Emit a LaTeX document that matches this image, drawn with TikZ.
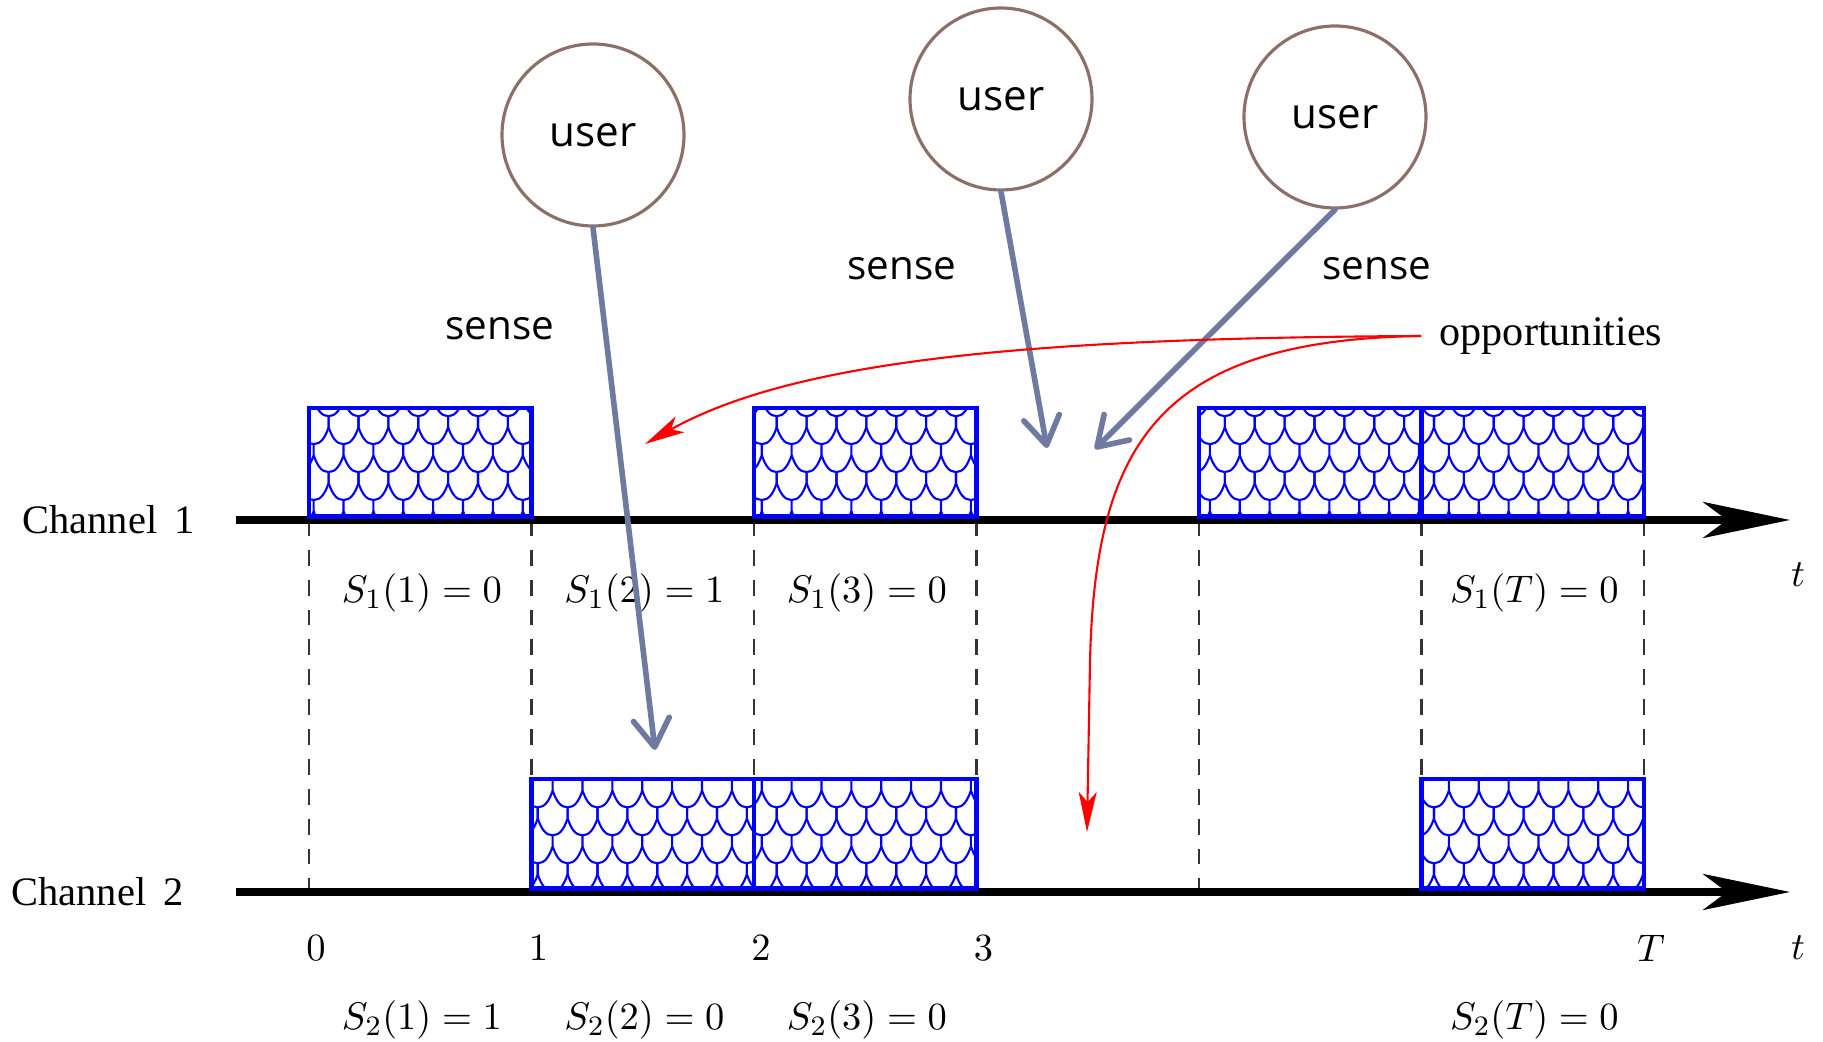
\documentclass[tikz,border=0pt]{standalone}
\usepackage[no-math]{fontspec}
\setmainfont{Liberation Serif}
\newfontfamily\uifont{Open Sans}
\usepackage{amsmath}
\usetikzlibrary{arrows.meta,patterns}

\definecolor{userbrown}{RGB}{140,112,104}
\definecolor{sensegray}{RGB}{110,122,160}

% fish scale hatching of the busy slots
\pgfdeclarepatternformonly{fishscale}{\pgfpoint{-1pt}{-1pt}}{\pgfpoint{9.5pt}{16.9pt}}{\pgfpoint{8.5pt}{15.9pt}}{
  \pgfsetlinewidth{0.6pt}
  \pgfpathmoveto{\pgfpoint{0pt}{15.9pt}}
  \pgfpathcurveto{\pgfpoint{1.0pt}{13.0pt}}{\pgfpoint{2.2pt}{11.1pt}}{\pgfpoint{4.25pt}{11.1pt}}
  \pgfpathcurveto{\pgfpoint{6.3pt}{11.1pt}}{\pgfpoint{7.5pt}{13.0pt}}{\pgfpoint{8.5pt}{15.9pt}}
  \pgfpathmoveto{\pgfpoint{4.25pt}{11.1pt}}
  \pgfpathlineto{\pgfpoint{4.25pt}{7.95pt}}
  \pgfpathmoveto{\pgfpoint{0pt}{3.15pt}}
  \pgfpathcurveto{\pgfpoint{2.05pt}{3.15pt}}{\pgfpoint{3.25pt}{5.05pt}}{\pgfpoint{4.25pt}{7.95pt}}
  \pgfpathcurveto{\pgfpoint{5.25pt}{5.05pt}}{\pgfpoint{6.45pt}{3.15pt}}{\pgfpoint{8.5pt}{3.15pt}}
  \pgfpathmoveto{\pgfpoint{0pt}{3.15pt}}
  \pgfpathlineto{\pgfpoint{0pt}{0pt}}
  \pgfpathmoveto{\pgfpoint{8.5pt}{3.15pt}}
  \pgfpathlineto{\pgfpoint{8.5pt}{0pt}}
  \pgfusepath{stroke}
}

\begin{document}
\begin{tikzpicture}[
    busy/.style={draw=blue, line width=1.4pt, pattern=fishscale, pattern color=blue},
    channel/.style={line width=2pt, -{Stealth[length=8.7mm, width=3.6mm, inset=2.4mm]}},
    slotline/.style={dash pattern=on 4.5pt off 4pt, line width=0.6pt, black!80},
    userbubble/.style={circle, draw=userbrown, line width=0.9pt, minimum size=18.2mm, inner sep=0pt, font=\uifont\fontsize{12}{14}\selectfont},
    senselabel/.style={font=\uifont\fontsize{11.5}{14}\selectfont},
    sensearrow/.style={draw=sensegray, line width=1.6pt, line cap=round, line join=round, -{Straight Barb[length=2.8mm, width=3.6mm, line cap=round, line join=round]}},
    opparrow/.style={red, line width=0.6pt, -{Stealth[length=4mm, width=1.8mm, inset=1mm]}},
    chlabel/.style={anchor=east, inner sep=0pt, font=\fontsize{11.5}{14}\selectfont},
    lbl/.style={font=\fontsize{11}{13}\selectfont}
  ]
  \useasboundingbox (0,0) rectangle (18.23,10.42);

  % slot boundaries on both channels
  \foreach \i in {0,...,6} {
    \coordinate (a\i) at ({3.09+2.225*\i},5.22);
    \coordinate (b\i) at ({3.09+2.225*\i},1.50);
  }

  % dashed slot lines
  \foreach \i/\e in {0/1.50,1/2.63,2/2.63,3/2.63,4/1.50,5/2.63,6/2.63}
    \draw[slotline] (a\i) -- ({3.09+2.225*\i},\e);

  % channel axes
  \coordinate (ch1end) at (17.90,5.22);
  \coordinate (ch2end) at (17.90,1.50);
  \draw[channel] (2.36,5.22) -- (ch1end);
  \draw[channel] (2.36,1.50) -- (ch2end);
  \node[chlabel] (ch1) at (1.95,5.22) {Channel\, 1};
  \node[chlabel] (ch2) at (1.84,1.50) {Channel\, 2};
  \node[lbl] (t1) at (17.98,4.67) {$t$};
  \node[lbl] (t2) at (17.98,0.94) {$t$};

  % busy slots
  \foreach \i in {0,2,4,5}
    \draw[busy] ({3.09+2.225*\i},5.255) rectangle ++(2.225,1.085);
  \foreach \i in {1,2,5}
    \draw[busy] ({3.09+2.225*\i},1.535) rectangle ++(2.225,1.095);

  % slot states
  \foreach \i/\l/\v in {0/1/0,1/2/1,2/3/0,5/T/0}
    \node[lbl] (s1\i) at ({4.22+2.225*\i},4.49) {$S_1(\l)=\v$};
  \foreach \i/\l/\v in {0/1/1,1/2/0,2/3/0,5/T/0}
    \node[lbl] (s2\i) at ({4.22+2.225*\i},0.22) {$S_2(\l)=\v$};
  \foreach \i/\l in {0/0,1/1,2/2,3/3,6/T}
    \node[lbl] (n\i) at ({3.16+2.225*\i},0.94) {$\l$};

  % users sensing
  \node[userbubble] (u1) at (5.93,9.07) {user};
  \node[userbubble] (u2) at (10.01,9.43) {user};
  \node[userbubble] (u3) at (13.35,9.25) {user};
  \node[senselabel] (l1) at (5.00,7.13) {sense};
  \node[senselabel] (l2) at (9.02,7.73) {sense};
  \node[senselabel] (l3) at (13.77,7.73) {sense};
  \coordinate (p1) at (6.55,2.92);
  \coordinate (p2) at (10.47,5.94);
  \coordinate (p3) at (10.95,5.93);
  \draw[sensearrow] (u1.south) -- (p1);
  \draw[sensearrow] (u2.south) -- (p2);
  \draw[sensearrow] (u3.south) -- (p3);

  % opportunities
  \node[anchor=west, inner sep=1.8mm, font=\fontsize{12}{14}\selectfont] (opp) at (14.21,7.06) {opportunities};
  \coordinate (q1) at (6.45,5.98);
  \coordinate (q2) at (10.87,2.10);
  \draw[opparrow] (opp.west) .. controls (10.5,7.04) and (8.0,6.85) .. (q1);
  \draw[opparrow] (opp.west) .. controls (11.6,7.02) and (10.95,6.0) .. (10.9,3.8) -- (q2);
\end{tikzpicture}
\end{document}
